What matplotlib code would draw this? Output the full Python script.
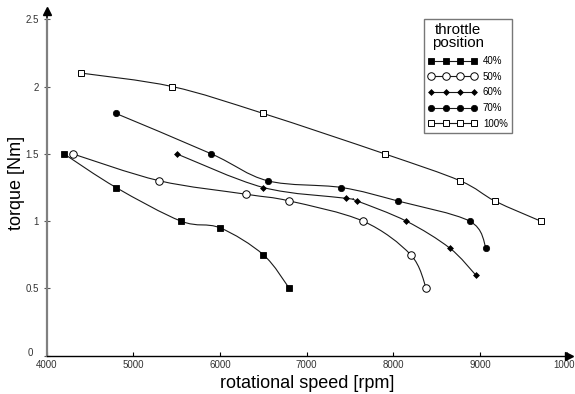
import matplotlib
matplotlib.use("Agg")
import matplotlib.pyplot as plt
from matplotlib.path import Path
from matplotlib.patches import PathPatch
from matplotlib.lines import Line2D
from matplotlib.transforms import ScaledTranslation
import numpy as np

plt.rcParams['font.family'] = ['Liberation Sans', 'DejaVu Sans']

# ---- data ----
speed_40 = [4200, 4800, 5550, 6000, 6500, 6800]
torque_40 = [1.5, 1.25, 1.0, 0.95, 0.75, 0.5]
speed_50 = [4300, 5300, 6300, 6800, 7650, 8200, 8380]
torque_50 = [1.5, 1.3, 1.2, 1.15, 1.0, 0.75, 0.5]
speed_60 = [5500, 6500, 7450, 7580, 8150, 8650, 8950]
torque_60 = [1.5, 1.25, 1.17, 1.15, 1.0, 0.8, 0.6]
speed_70 = [4800, 5900, 6550, 7400, 8050, 8880, 9070]
torque_70 = [1.8, 1.5, 1.3, 1.25, 1.15, 1.0, 0.8]
speed_100 = [4400, 5450, 6500, 7900, 8770, 9170, 9700]
torque_100 = [2.1, 2.0, 1.8, 1.5, 1.3, 1.15, 1.0]

series_labels = ['40%', '50%', '60%', '70%', '100%']
legend_title = 'throttle\nposition'
x_ticks = [4000, 5000, 6000, 7000, 8000, 9000, 10000]
x_ticklabels = ['4000', '5000', '6000', '7000', '8000', '9000', '10000']
y_ticks = [0, 0.5, 1, 1.5, 2, 2.5]
y_ticklabels = ['0', '0.5', '1', '1.5', '2', '2.5']
x_label = 'rotational speed [rpm]'
y_label = 'torque [Nm]'


def smooth_path(xs, ys):
    """Catmull-Rom curve through data points as cubic Bezier path."""
    P = np.column_stack([xs, ys]).astype(float)
    n = len(P)
    verts = [P[0]]
    codes = [Path.MOVETO]
    for i in range(n - 1):
        p0 = P[i - 1] if i > 0 else P[i]
        p1 = P[i]
        p2 = P[i + 1]
        p3 = P[i + 2] if i + 2 < n else P[i + 1]
        c1 = p1 + (p2 - p0) / 6.0
        c2 = p2 - (p3 - p1) / 6.0
        verts += [c1, c2, p2]
        codes += [Path.CURVE4] * 3
    return Path(verts, codes)


fig = plt.figure(figsize=(5.75, 3.94), dpi=100)
ax = fig.add_axes([46.7 / 575, 38.3 / 394, 520 / 575, 336.4 / 394])

line_color = '#1a1a1a'
styles = [
    dict(marker='s', markersize=4.4, markerfacecolor='black', markeredgecolor='black', markeredgewidth=0.6),
    dict(marker='o', markersize=5.4, markerfacecolor='white', markeredgecolor='black', markeredgewidth=0.7),
    dict(marker='D', markersize=3.0, markerfacecolor='black', markeredgecolor='black', markeredgewidth=0.5),
    dict(marker='o', markersize=4.6, markerfacecolor='black', markeredgecolor='black', markeredgewidth=0.5),
    dict(marker='s', markersize=4.4, markerfacecolor='white', markeredgecolor='black', markeredgewidth=0.7),
]
all_series = [(speed_40, torque_40), (speed_50, torque_50), (speed_60, torque_60),
              (speed_70, torque_70), (speed_100, torque_100)]

handles = []
for (xs, ys), st, lab in zip(all_series, styles, series_labels):
    patch = PathPatch(smooth_path(xs, ys), fill=False, edgecolor=line_color,
                      linewidth=0.8, transform=ax.transData, zorder=2)
    ax.add_patch(patch)
    ax.plot(xs, ys, linestyle='none', zorder=3, **st)
    handles.append(Line2D([], [], color=line_color, linewidth=0.8, label=lab, **st))

ax.set_xlim(4000, 10000)
ax.set_ylim(0, 2.5)

for s in ['top', 'right']:
    ax.spines[s].set_visible(False)
ax.spines['left'].set_color('#808080')
ax.spines['left'].set_linewidth(1.6)
ax.spines['bottom'].set_color('black')
ax.spines['bottom'].set_linewidth(1.0)

# axis arrows
ax.plot([0, 0], [1.0, 1.025], transform=ax.transAxes, color='black', lw=1.2, clip_on=False)
ax.plot([0], [1.025], transform=ax.transAxes, marker='^', color='black', markersize=6, clip_on=False)
ax.plot([1.0, 1.005], [0, 0], transform=ax.transAxes, color='black', lw=1.0, clip_on=False)
ax.plot([1.005], [0], transform=ax.transAxes, marker='>', color='black', markersize=6, clip_on=False)

ax.set_xticks(x_ticks)
ax.set_xticklabels(x_ticklabels)
ax.set_yticks(y_ticks)
ax.set_yticklabels(y_ticklabels)
ax.tick_params(axis='x', direction='in', length=3, width=0.8, color='black', pad=3,
               labelsize=7, labelcolor='#333333')
ax.tick_params(axis='y', direction='inout', length=5, width=0.8, color='#555555', pad=3,
               labelsize=7, labelcolor='#333333')

# the "0" label sits a little up and left of its tick, as in the reference
zero_lab = ax.get_yticklabels()[0]
zero_lab.set_transform(zero_lab.get_transform() +
                       ScaledTranslation(-6 / 100, 4 / 100, fig.dpi_scale_trans))

ax.set_xlabel(x_label, fontsize=13, labelpad=4)
ax.set_ylabel(y_label, fontsize=13)
ax.yaxis.set_label_coords(-0.042, 0.515)

leg = ax.legend(handles=handles, title=legend_title, loc='upper left',
                bbox_to_anchor=(0.7256, 1.002), borderaxespad=0, numpoints=4,
                handlelength=5.0, handletextpad=0.6, labelspacing=0.58,
                fontsize=7, title_fontsize=10.8, fancybox=False, frameon=True,
                edgecolor='#555555', borderpad=0.45, alignment='left')
leg.get_frame().set_linewidth(1.0)
title = leg.get_title()
title.set_multialignment('center')
title.set_linespacing(0.95)
title.set_transform(title.get_transform() +
                    ScaledTranslation(4 / 100, 0, fig.dpi_scale_trans))

fig.savefig('out.png', dpi=100)
